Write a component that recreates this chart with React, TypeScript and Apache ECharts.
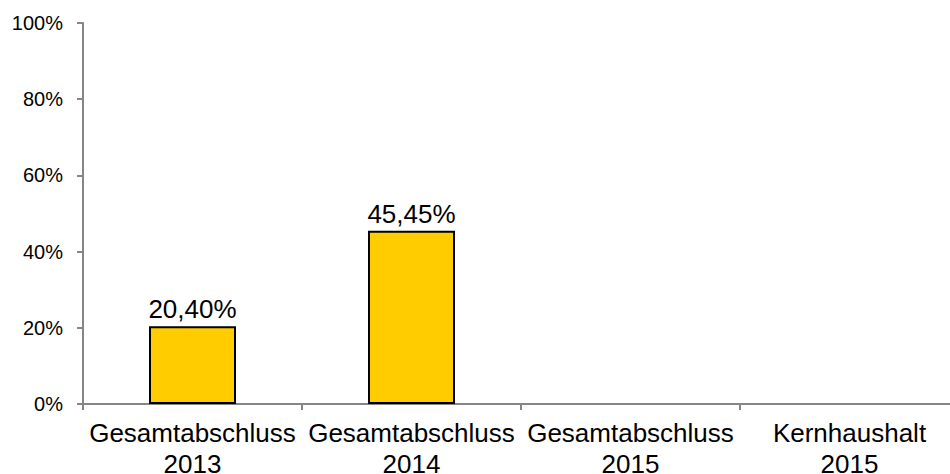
import React, { useEffect, useRef } from "react";
import * as echarts from "echarts";

const categories = [
  "Gesamtabschluss\n2013",
  "Gesamtabschluss\n2014",
  "Gesamtabschluss\n2015",
  "Kernhaushalt\n2015",
];
const shareValues: (number | null)[] = [20.4, 45.45, null, null];
const yTicks = [0, 20, 40, 60, 80, 100];

const FONT = "'Liberation Sans', Arial, sans-serif";

export default function App() {
  const ref = useRef<HTMLDivElement>(null);

  useEffect(() => {
    if (!ref.current) return;
    const chart = echarts.init(ref.current, undefined, { renderer: "svg" });
    chart.setOption({
      animation: false,
      backgroundColor: "#ffffff",
      grid: {
        left: 83,
        right: -9,
        top: 23,
        bottom: 70,
        containLabel: false,
        outerBoundsMode: "none",
      },
      xAxis: {
        type: "category",
        data: categories,
        axisLine: { lineStyle: { color: "#868686", width: 2 } },
        axisTick: { show: true, length: 6, lineStyle: { color: "#868686", width: 2 } },
        axisLabel: {
          color: "#000",
          fontFamily: FONT,
          fontSize: 26,
          lineHeight: 31,
          margin: 13,
          interval: 0,
        },
      },
      yAxis: {
        type: "value",
        min: yTicks[0],
        max: yTicks[yTicks.length - 1],
        interval: 20,
        splitLine: { show: false },
        axisLine: { show: true, lineStyle: { color: "#868686", width: 2 } },
        axisTick: { show: true, length: 6, lineStyle: { color: "#868686", width: 2 } },
        axisLabel: {
          color: "#000",
          fontFamily: FONT,
          fontSize: 20,
          margin: 20,
          formatter: (v: number) => `${v}%`,
        },
      },
      series: [
        {
          type: "bar",
          data: shareValues,
          barWidth: 87,
          itemStyle: { color: "#FFCC00", borderColor: "#000", borderWidth: 2 },
          label: {
            show: true,
            position: "top",
            distance: 4,
            color: "#000",
            fontFamily: FONT,
            fontSize: 26,
            formatter: (p: any) =>
              p.value == null ? "" : `${Number(p.value).toFixed(2).replace(".", ",")}%`,
          },
        },
      ],
    });
    return () => chart.dispose();
  }, []);

  return (
    <div
      ref={ref}
      style={{ position: "fixed", left: 0, top: 0, width: 950, height: 474 }}
    />
  );
}
